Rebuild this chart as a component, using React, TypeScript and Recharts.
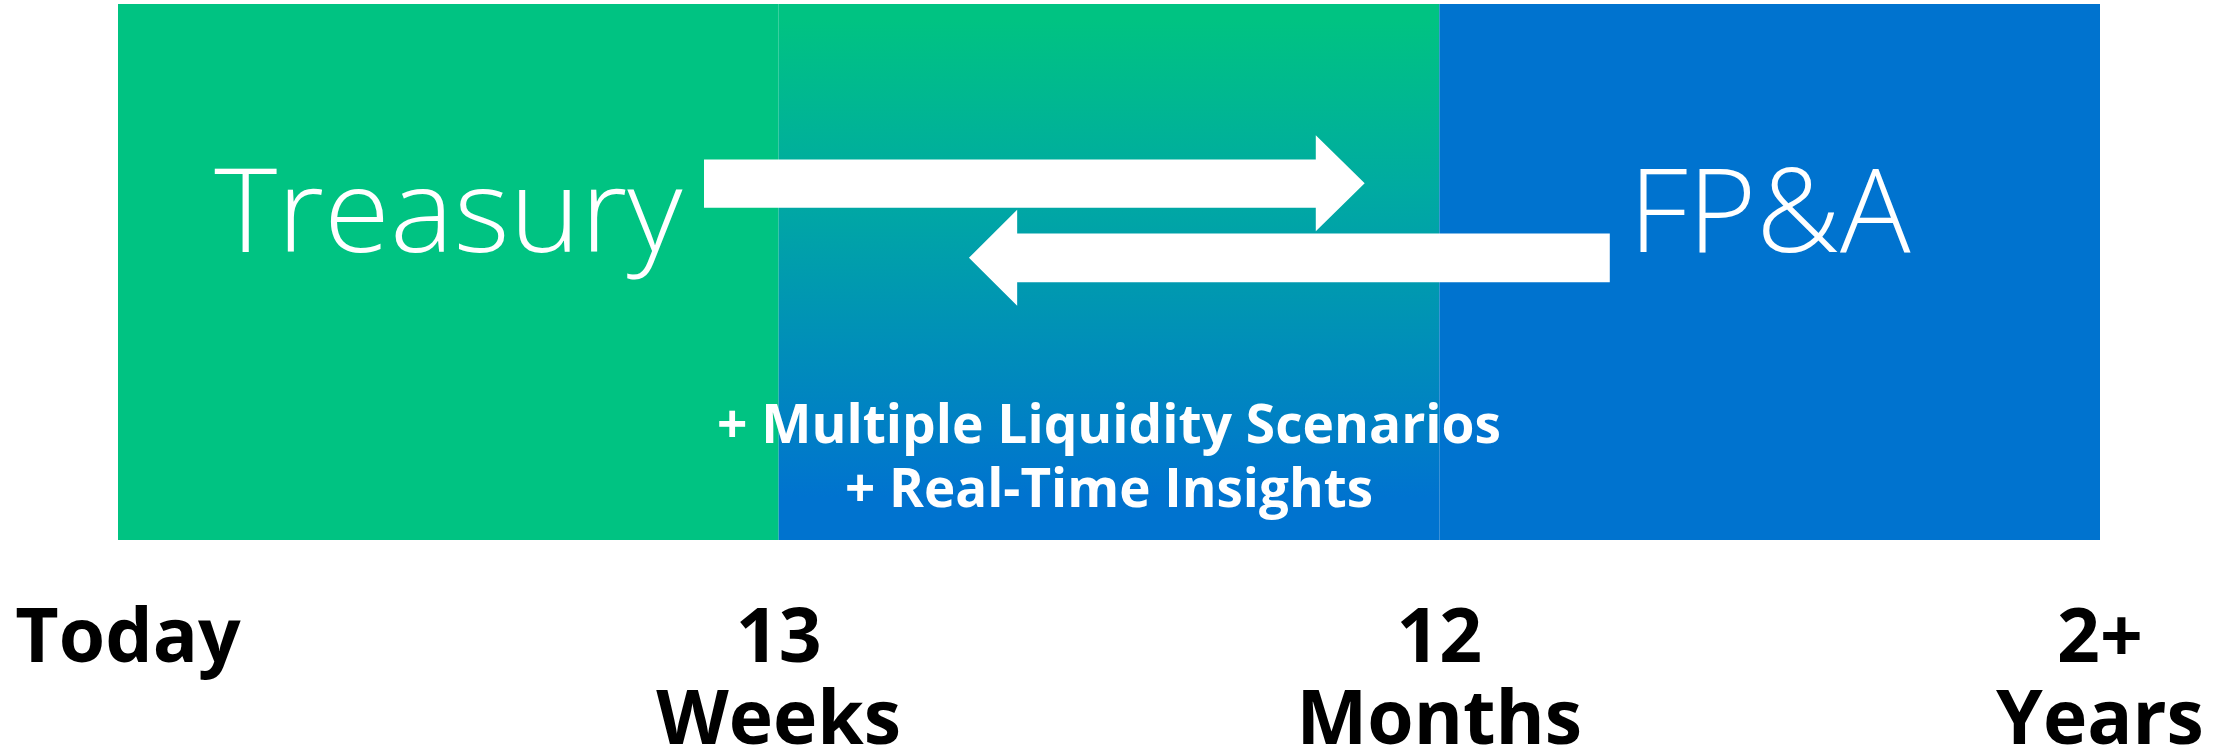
import React from 'react';
import { ComposedChart, XAxis, YAxis, ReferenceArea, ReferenceDot } from 'recharts';

// Horizon phases (x in time-horizon units: 0 = Today, 1 = 13 Weeks, 2 = 12 Months, 3 = 2+ Years)
const phaseNames = ['Treasury', 'Overlap', 'FP&A'];
const phaseStart = [0, 1, 2];
const phaseEnd = [1, 2, 3];
const phaseFill = ['#00C382', 'url(#overlapGrad)', '#0073CF'];

// Axis ticks
const tickValues = [0, 1, 2, 3];
const tickLine1 = ['Today', '13', '12', '2+'];
const tickLine2 = ['', 'Weeks', 'Months', 'Years'];

// Arrows (x in horizon units, y in 0..100 chart units)
const arrowTail = [0.887, 2.258];
const arrowTip = [1.887, 1.288];
const arrowHeadBase = [1.813, 1.361];
const arrowHeadTop = [75.5, 61.6];
const arrowHeadBottom = [57.6, 43.7];
const arrowShaftTop = [71.0, 57.2];
const arrowShaftBottom = [62.0, 48.1];

// Labels inside the chart
const bigLabels = ['Treasury', 'FP&A'];
const bigLabelX = [0.5, 2.5];
const bigLabelY = [53.7, 53.7];
const noteLabels = ['+ Multiple Liquidity Scenarios', '+ Real-Time Insights'];
const noteX = [1.5, 1.5];
const noteY = [18.1, 6.2];

const bigLabelLen = [468, 282];
const noteLen = [784, 528];

const makeArrowShape = (i: number) => (props: any) => {
  const { x, y, width, height } = props;
  if (x == null || width == null) return null;
  const spanHead = arrowHeadTop[i] - arrowHeadBottom[i];
  const fTop = (arrowHeadTop[i] - arrowShaftTop[i]) / spanHead;
  const fBot = (arrowHeadTop[i] - arrowShaftBottom[i]) / spanHead;
  const span = Math.abs(arrowTip[i] - arrowTail[i]);
  const fHead = Math.abs(arrowTip[i] - arrowHeadBase[i]) / span;
  const st = y + fTop * height;
  const sb = y + fBot * height;
  const mid = y + height / 2;
  const right = arrowTip[i] > arrowTail[i];
  let pts: number[][];
  if (right) {
    const hb = x + width * (1 - fHead);
    pts = [[x, st], [hb, st], [hb, y], [x + width, mid], [hb, y + height], [hb, sb], [x, sb]];
  } else {
    const hb = x + width * fHead;
    pts = [[x + width, st], [hb, st], [hb, y], [x, mid], [hb, y + height], [hb, sb], [x + width, sb]];
  }
  return <polygon points={pts.map((p) => p.join(',')).join(' ')} fill="#FFFFFF" />;
};

const renderTick = (props: any) => {
  const { x, y, payload, index } = props;
  const i = tickValues.indexOf(payload.value);
  const dx = i === 0 ? 10 : 0;
  return (
    <g key={`t-${index}`}>
      <text x={x + dx} y={y + 122} textAnchor="middle" fontFamily="'Open Sans', sans-serif" fontWeight={700} fontSize={75} fill="#000">
        {tickLine1[i]}
      </text>
      {tickLine2[i] ? (
        <text x={x + dx} y={y + 204} textAnchor="middle" fontFamily="'Open Sans', sans-serif" fontWeight={700} fontSize={75} fill="#000">
          {tickLine2[i]}
        </text>
      ) : null}
    </g>
  );
};

export default function App() {
  return (
    <div style={{ position: 'absolute', left: 0, top: 0, width: 2234, height: 754, background: '#fff' }}>
      <ComposedChart width={2234} height={754} data={[]} margin={{ top: 4, right: 134, left: 118, bottom: 0 }}>
        <defs>
          <linearGradient id="overlapGrad" x1="0" y1="0" x2="0" y2="1">
            <stop offset="0.03" stopColor="#00C382" />
            <stop offset="0.35" stopColor="#00AAA2" />
            <stop offset="0.92" stopColor="#0073CF" />
          </linearGradient>
        </defs>
        <XAxis
          type="number"
          dataKey="x"
          domain={[0, 3]}
          ticks={tickValues}
          allowDataOverflow
          axisLine={false}
          tickLine={false}
          tickSize={0}
          tickMargin={0}
          height={214}
          interval={0}
          tick={renderTick}
        />
        <YAxis type="number" domain={[0, 100]} hide width={0} allowDataOverflow />
        {phaseNames.map((n, i) => (
          <ReferenceArea
            key={n}
            x1={phaseStart[i]}
            x2={phaseEnd[i]}
            y1={0}
            y2={100}
            fill={phaseFill[i]}
            fillOpacity={1}
            stroke="none"
            ifOverflow="visible"
          />
        ))}
        {arrowTail.map((t, i) => (
          <ReferenceArea
            key={`a-${i}`}
            x1={Math.min(t, arrowTip[i])}
            x2={Math.max(t, arrowTip[i])}
            y1={arrowHeadBottom[i]}
            y2={arrowHeadTop[i]}
            ifOverflow="visible"
            shape={makeArrowShape(i)}
          />
        ))}
        {bigLabels.map((l, i) => (
          <ReferenceDot
            key={l}
            x={bigLabelX[i]}
            y={bigLabelY[i]}
            r={0}
            ifOverflow="visible"
            shape={(p: any) => (
              <text
                x={p.cx}
                y={p.cy}
                textAnchor="middle"
                fontFamily="'Open Sans', sans-serif"
                fontWeight={300}
                fontSize={116}
                fill="#FFFFFF"
                textLength={bigLabelLen[i]}
                lengthAdjust="spacingAndGlyphs"
              >
                {l}
              </text>
            )}
          />
        ))}
        {noteLabels.map((l, i) => (
          <ReferenceDot
            key={l}
            x={noteX[i]}
            y={noteY[i]}
            r={0}
            ifOverflow="visible"
            shape={(p: any) => (
              <text
                x={p.cx}
                y={p.cy}
                textAnchor="middle"
                fontFamily="'Open Sans', sans-serif"
                fontWeight={700}
                fontSize={53}
                fill="#FFFFFF"
                textLength={noteLen[i]}
                lengthAdjust="spacingAndGlyphs"
              >
                {l}
              </text>
            )}
          />
        ))}
      </ComposedChart>
    </div>
  );
}
